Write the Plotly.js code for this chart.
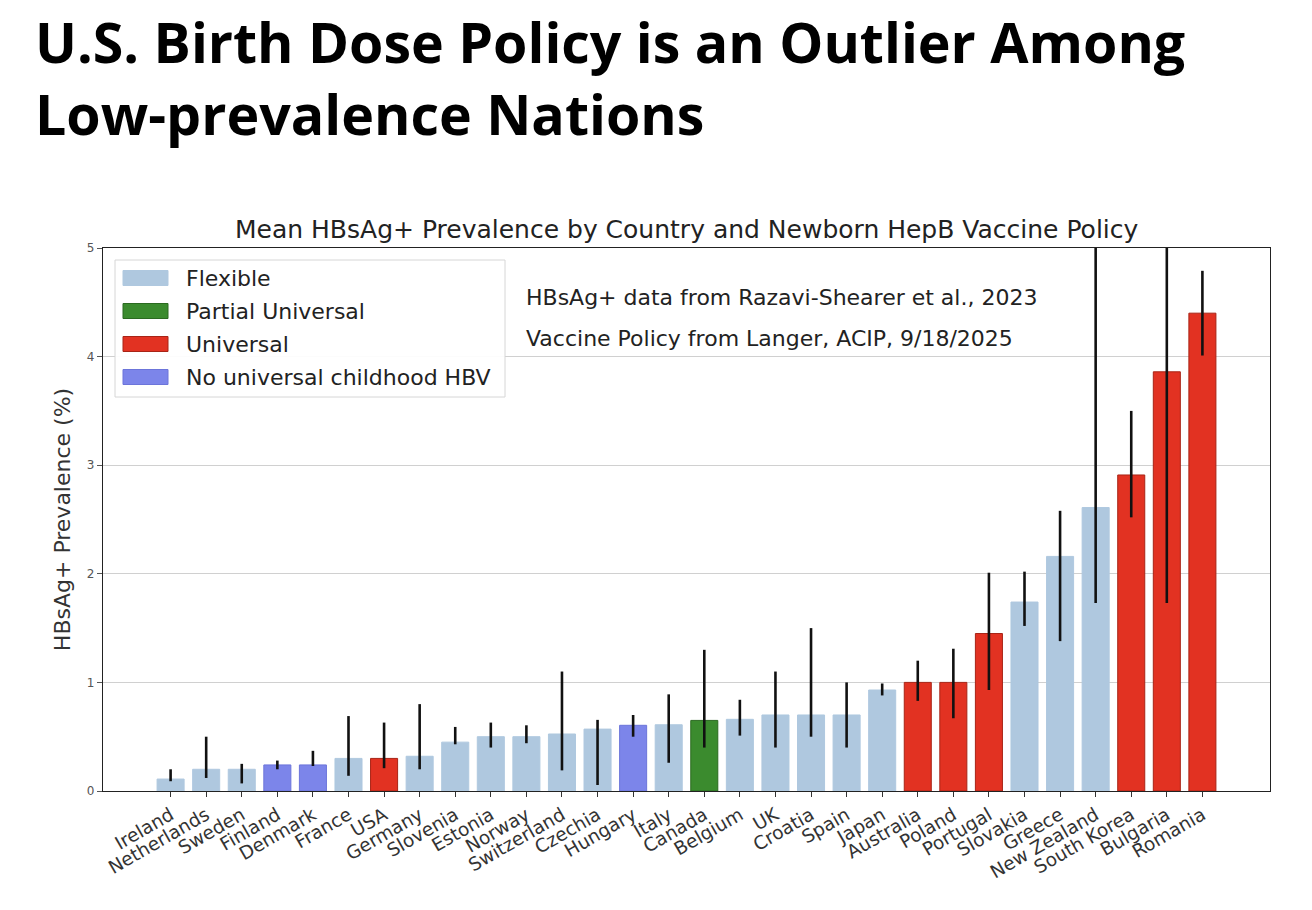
<!DOCTYPE html>
<html>
<head>
<meta charset="utf-8">
<script src="https://cdn.plot.ly/plotly-3.0.1.min.js"></script>
<style>
  html, body { margin: 0; padding: 0; background: #fff; }
  #chart { width: 1312px; height: 910px; }
</style>
</head>
<body>
<div id="chart"></div>
<script>
// Countries in ascending order of mean HBsAg+ prevalence
const countries = ["Ireland", "Netherlands", "Sweden", "Finland", "Denmark", "France", "USA",
  "Germany", "Slovenia", "Estonia", "Norway", "Switzerland", "Czechia", "Hungary", "Italy",
  "Canada", "Belgium", "UK", "Croatia", "Spain", "Japan", "Australia", "Poland", "Portugal",
  "Slovakia", "Greece", "New Zealand", "South Korea", "Bulgaria", "Romania"];

// Newborn HepB vaccine policy of each country
const policy = ["Flexible", "Flexible", "Flexible", "No universal childhood HBV", "No universal childhood HBV",
  "Flexible", "Universal", "Flexible", "Flexible", "Flexible", "Flexible", "Flexible", "Flexible",
  "No universal childhood HBV", "Flexible", "Partial Universal", "Flexible", "Flexible", "Flexible",
  "Flexible", "Flexible", "Universal", "Universal", "Universal", "Flexible", "Flexible", "Flexible",
  "Universal", "Universal", "Universal"];

// Mean prevalence (%) and the low / high bounds of its range
const meanPrev = [0.11, 0.20, 0.20, 0.24, 0.24, 0.30, 0.30, 0.32, 0.45, 0.50, 0.50, 0.525, 0.57,
  0.605, 0.61, 0.65, 0.66, 0.70, 0.70, 0.70, 0.93, 1.00, 1.00, 1.45, 1.74, 2.16, 2.61, 2.91, 3.86, 4.40];
const lowPrev = [0.09, 0.12, 0.07, 0.20, 0.23, 0.14, 0.21, 0.20, 0.43, 0.40, 0.44, 0.19, 0.055,
  0.50, 0.26, 0.40, 0.51, 0.40, 0.50, 0.40, 0.88, 0.83, 0.67, 0.93, 1.52, 1.38, 1.73, 2.52, 1.73, 4.01];
const highPrev = [0.20, 0.50, 0.25, 0.28, 0.37, 0.69, 0.63, 0.80, 0.59, 0.63, 0.605, 1.10, 0.655,
  0.70, 0.89, 1.30, 0.84, 1.10, 1.50, 1.00, 0.99, 1.20, 1.31, 2.01, 2.02, 2.58, 5.50, 3.50, 6.00, 4.79];

// Policy categories, legend order and colours
const policyNames = ["Flexible", "Partial Universal", "Universal", "No universal childhood HBV"];
const policyFill = ["#afc8df", "#3b8b2e", "#e23222", "#7c85ea"];
const policyEdge = ["#afc8df", "#2b6a20", "#a82416", "#6c75da"];

const yTicks = [0, 1, 2, 3, 4, 5];

const traces = policyNames.map((name, k) => {
  const idx = countries.map((c, i) => i).filter(i => policy[i] === name);
  return {
    type: "bar",
    name: name,
    x: idx.map(i => countries[i]),
    y: idx.map(i => meanPrev[i]),
    width: 0.76,
    marker: { color: policyFill[k], line: { color: policyEdge[k], width: 1 } },
    error_y: {
      type: "data",
      symmetric: false,
      array: idx.map(i => highPrev[i] - meanPrev[i]),
      arrayminus: idx.map(i => meanPrev[i] - lowPrev[i]),
      color: "#111111",
      thickness: 2.6,
      width: 0
    },
    showlegend: false,
    hoverinfo: "x+y"
  };
});

// Pixel helpers for placing decorations in paper coordinates
const plotL = 103, plotR = 1270, plotT = 248, plotB = 791;
const px = v => (v - plotL) / (plotR - plotL);
const py = v => (plotB - v) / (plotB - plotT);

// Legend box over the top-left corner of the plot
const shapes = [{
  type: "rect", xref: "paper", yref: "paper", layer: "above",
  x0: px(115), x1: px(505), y0: py(397), y1: py(260),
  fillcolor: "rgba(255,255,255,0.92)", line: { color: "#d6d6d6", width: 1 }
}];
const annotations = [];
policyNames.forEach((name, k) => {
  const cy = 278 + k * 33;
  shapes.push({
    type: "rect", xref: "paper", yref: "paper", layer: "above",
    x0: px(123), x1: px(168), y0: py(cy + 7.5), y1: py(cy - 7.5),
    fillcolor: policyFill[k], line: { color: policyEdge[k], width: 1 }
  });
  annotations.push({
    xref: "paper", yref: "paper", x: px(184), y: py(cy), xanchor: "left", yanchor: "middle",
    text: name, showarrow: false, font: { family: "DejaVu Sans", size: 22, color: "#222" }
  });
});

// Slide heading, two lines
annotations.push({
  xref: "paper", yref: "paper", x: px(33), y: py(77), xanchor: "left", yanchor: "middle",
  align: "left",
  text: "U.S. Birth Dose Policy is an Outlier Among<br>Low-prevalence Nations", showarrow: false,
  font: { family: "Open Sans", size: 55.5, color: "#000", weight: 700 }
});

annotations.push({
  xref: "paper", yref: "paper", x: 0.5, y: 1, xanchor: "center", yanchor: "bottom", yshift: 2,
  text: "Mean HBsAg+ Prevalence by Country and Newborn HepB Vaccine Policy", showarrow: false,
  font: { family: "DejaVu Sans", size: 25, color: "#222" }
});
annotations.push({
  xref: "paper", yref: "paper", x: px(524), y: py(297), xanchor: "left", yanchor: "middle",
  text: "HBsAg+ data from Razavi-Shearer et al., 2023", showarrow: false,
  font: { family: "DejaVu Sans", size: 22, color: "#222" }
});
annotations.push({
  xref: "paper", yref: "paper", x: px(524), y: py(338), xanchor: "left", yanchor: "middle",
  text: "Vaccine Policy from Langer, ACIP, 9/18/2025", showarrow: false,
  font: { family: "DejaVu Sans", size: 22, color: "#222" }
});

const layout = {
  width: 1312, height: 910,
  paper_bgcolor: "#ffffff", plot_bgcolor: "#ffffff",
  margin: { l: plotL, r: 1312 - plotR, t: plotT, b: 910 - plotB, pad: 0 },
  barmode: "overlay",
  showlegend: false,
  xaxis: {
    type: "category",
    categoryorder: "array", categoryarray: countries,
    range: [-1.9, 30.9],
    tickangle: -30,
    ticks: "outside", ticklen: 5, tickcolor: "#333",
    tickfont: { family: "DejaVu Sans", size: 18.5, color: "#333" },
    showline: true, mirror: true, linecolor: "#222", linewidth: 1.2,
    showgrid: false, zeroline: false
  },
  yaxis: {
    range: [0, 5],
    tickvals: yTicks, ticktext: yTicks.map(String),
    ticks: "outside", ticklen: 5, tickcolor: "#555",
    tickfont: { family: "DejaVu Sans", size: 12, color: "#555" },
    showline: true, mirror: true, linecolor: "#222", linewidth: 1.2,
    showgrid: true, gridcolor: "#d0d0d0", gridwidth: 1, zeroline: false,
    title: { text: "HBsAg+ Prevalence (%)", standoff: 10,
      font: { family: "DejaVu Sans", size: 22, color: "#333" } }
  },
  shapes: shapes,
  annotations: annotations
};

Plotly.newPlot("chart", traces, layout, { displayModeBar: false, staticPlot: true });
</script>
</body>
</html>
